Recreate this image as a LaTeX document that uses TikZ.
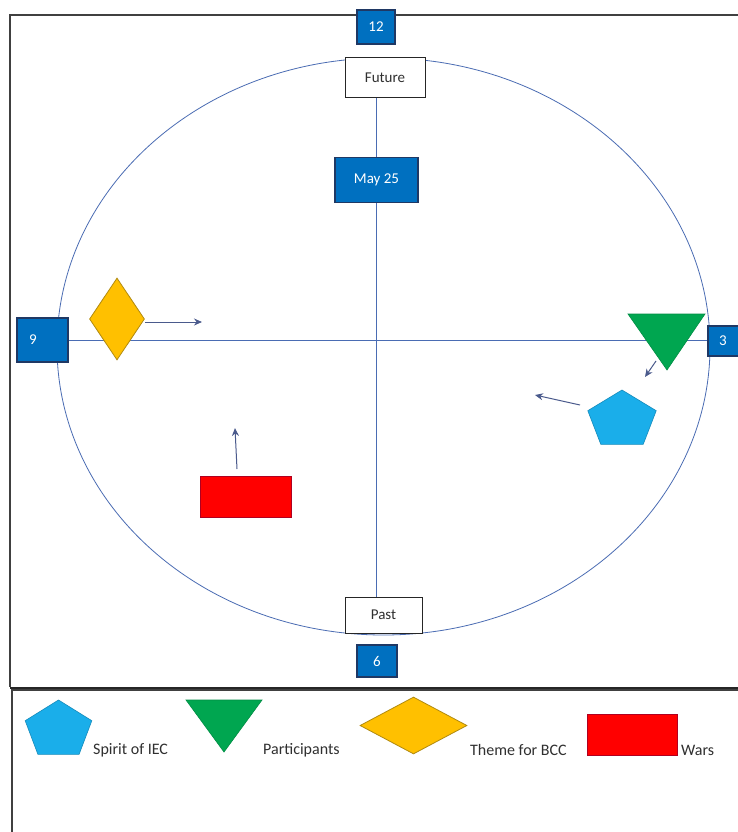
\documentclass[tikz,border=0pt]{standalone}
\usepackage{fontspec}
\setmainfont{Carlito}
\usetikzlibrary{shapes.geometric,arrows.meta}
\definecolor{boxblue}{HTML}{0070C0}
\definecolor{boxedge}{HTML}{1F3864}
\definecolor{axiscol}{HTML}{4A6CB3}
\definecolor{arrcol}{HTML}{4A5A8C}
\definecolor{gold}{HTML}{FFC000}
\definecolor{goldedge}{HTML}{B08A10}
\definecolor{grn}{HTML}{00A650}
\definecolor{cyanb}{HTML}{1AAEEA}
\definecolor{redf}{HTML}{FF0000}
\definecolor{rededge}{HTML}{B00020}
\definecolor{txt}{HTML}{303030}
\begin{document}
\begin{tikzpicture}[x=1pt,y=-1pt,
  numbox/.style={draw=boxedge,fill=boxblue,text=white,line width=1.2pt,inner sep=0pt,font=\fontsize{15}{17}\selectfont},
  whitebox/.style={draw=black!85,fill=white,line width=1pt,inner sep=0pt,text=txt,font=\fontsize{15}{17}\selectfont},
  axisline/.style={draw=axiscol,line width=0.8pt},
  flowarrow/.style={draw=arrcol,line width=1pt,-{Stealth[length=8pt,width=7pt]}},
  dia/.style={diamond,draw=goldedge,fill=gold,line width=0.8pt,inner sep=0pt},
  redbox/.style={rectangle,draw=rededge,fill=redf,line width=0.8pt,inner sep=0pt},
  pent/.style={fill=cyanb,draw=cyanb!80!black,line width=0.6pt},
  tri/.style={fill=grn,draw=grn!85!black,line width=0.6pt},
  legtext/.style={anchor=west,inner sep=0pt,text=txt,font=\fontsize{16}{18}\selectfont},
  frame/.style={draw=black!75,line width=1.3pt}]
\useasboundingbox (0,0) rectangle (738,832);
\clip (0,0) rectangle (738,832);
\fill[white] (0,0) rectangle (738,832);

% frames
\draw[frame] (760,15) -- (10,15) -- (10,687);
\draw[draw=black!85,line width=2pt] (10,687.5) -- (760,687.5);
\draw[frame] (760,690) -- (12,690) -- (12,850);

% ellipse
\draw[axisline] (383.5,346.5) ellipse [x radius=326.5, y radius=288.5];

% boxes
\node[numbox,minimum width=38pt,minimum height=34pt] (n12) at (376,27) {12};
\node[whitebox,minimum width=80pt,minimum height=40pt] (future) at (385,78) {Future};
\node[whitebox,minimum width=77pt,minimum height=36pt] (past) at (383.5,615) {Past};
\node[numbox,minimum width=40pt,minimum height=32pt] (n6) at (377,661) {6};
\node[numbox,minimum width=51pt,minimum height=44pt,text width=27pt,align=left] (n9) at (42.5,340) {9};
\node[numbox,minimum width=60pt,minimum height=30pt,text width=38pt,align=left] (n3) at (738,341) {3};
\coordinate (vx) at (376,180);

% axes
\draw[axisline] (vx |- future.south) -- (vx |- past.north);
\draw[axisline] (n9.east) -- (n9.east -| n3.west);

\node[numbox,minimum width=83pt,minimum height=45pt] (may25) at (376.5,180) {May 25};

% shapes in circle
\node[dia,minimum width=55pt,minimum height=82pt] (theme) at (117,319) {};
\fill[tri] (628,314) -- (705,314) -- (667,370) -- cycle;
\coordinate (partc) at (666,333);
\fill[pent] (622,390) -- (656.2,410.7) -- (643.2,444.3) -- (600.8,444.3) -- (587.8,410.7) -- cycle;
\coordinate (spiritc) at (622,420);
\node[redbox,minimum width=91pt,minimum height=41pt] (wars) at (245.5,496.5) {};

% arrows
\coordinate (a1s) at (145,322); \coordinate (a1e) at (202,322);
\draw[flowarrow] (a1s) -- (a1e);
\coordinate (a2s) at (656,361); \coordinate (a2e) at (645,377);
\draw[flowarrow] (a2s) -- (a2e);
\coordinate (a3s) at (580,405); \coordinate (a3e) at (535,395);
\draw[flowarrow] (a3s) -- (a3e);
\coordinate (a4s) at (237,469); \coordinate (a4e) at (235,428);
\draw[flowarrow] (a4s) -- (a4e);

% legend
\fill[pent] (58.5,700) -- (91.8,720.7) -- (79.1,754.3) -- (37.9,754.3) -- (25.2,720.7) -- cycle;
\node[legtext] (lspirit) at (93,750) {Spirit of IEC};
\fill[tri] (186,700) -- (262,700) -- (224,752) -- cycle;
\node[legtext] (lpart) at (263,750) {Participants};
\node[dia,minimum width=107pt,minimum height=57pt] (ltheme) at (413.5,725.5) {};
\node[legtext] (ltext) at (470,750) {Theme for BCC};
\node[redbox,minimum width=90pt,minimum height=41pt] (lwars) at (632,734.5) {};
\node[legtext] (lwt) at (681,750) {Wars};
\end{tikzpicture}
\end{document}
